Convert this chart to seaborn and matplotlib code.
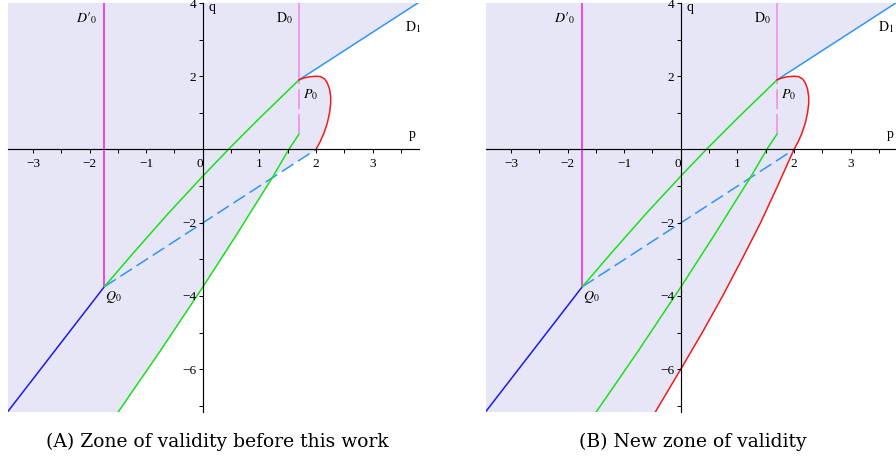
import matplotlib
matplotlib.use('Agg')
import matplotlib.pyplot as plt
import matplotlib.transforms as mtransforms
import seaborn as sns

sns.set_style('white')
plt.rcParams['font.family'] = ['Liberation Serif', 'DejaVu Serif']
plt.rcParams['mathtext.fontset'] = 'stix'
plt.rcParams['text.color'] = 'black'
plt.rcParams['xtick.color'] = 'black'
plt.rcParams['ytick.color'] = 'black'

# axis ranges
p_lim = (-3.44, 3.82)
q_lim = (-7.16, 4.0)
p_ticks = [-3, -2, -1, 0, 1, 2, 3]
p_minor = [-2.5, -1.5, -0.5, 0.5, 1.5, 2.5, 3.5]
q_ticks = [-6, -4, -2, 2, 4]
q_minor = [-7, -5, -3, -1, 1, 3]

# special points
p0_pt = (1.70, 1.90)
q0_pt = (-1.74, -3.75)

# D1 (light blue)
d1_p = [1.70, 4.30]
d1_q = [1.90, 4.50]

# dashed blue segment Q0 -> (2, 0)
dash_p = [-1.74, 2.00]
dash_q = [-3.75, 0.00]

# dark blue below Q0
blue_p = [-1.74, -3.50]
blue_q = [-3.75, -7.27]

# upper green Q0 -> P0
green1_p = [-1.74, -1.20, -0.60, 0.00, 0.47, 1.00, 1.70]
green1_q = [-3.75, -2.78, -1.73, -0.73, 0.03, 0.85, 1.90]

# lower green
green2_p = [-1.53, -0.75, 0.00, 0.60, 1.00, 1.24, 1.52, 1.70]
green2_q = [-7.25, -5.50, -3.76, -2.32, -1.33, -0.74, 0.00, 0.42]
cross_idx = 5  # lower green meets dashed line here

# red curve, upper loop P0 -> (2, 0)
red_top_p = [1.70, 1.78, 1.88, 2.00, 2.08, 2.15, 2.20, 2.24, 2.26, 2.26, 2.24, 2.20, 2.14, 2.07, 2.00]
red_top_q = [1.90, 1.95, 1.985, 2.00, 1.99, 1.93, 1.82, 1.65, 1.45, 1.25, 1.00, 0.72, 0.44, 0.20, 0.00]

# red curve, lower branch (new zone only)
red_low_p = [2.00, 1.71, 1.41, 1.08, 0.74, 0.38, 0.00, -0.48]
red_low_q = [0.00, -1.00, -2.00, -3.00, -4.00, -5.00, -6.00, -7.25]

# vertical lines
d0p_p = -1.74
d0_p = 1.70
d0_dash_bottom = 0.42

captions = ['(A) Zone of validity before this work', '(B) New zone of validity']

fill_col = '#E6E6F7'
c_green = '#19E019'
c_red = '#F21A1A'
c_lblue = '#2E95F5'
c_blue = '#1A1AF0'
c_mag = '#F01AF0'
c_viol = '#EE88EE'

fig = plt.figure(figsize=(8.96, 4.70), dpi=100)
ax_a = fig.add_axes([8 / 896, 1 - 411.7 / 470, 411 / 896, 408.7 / 470])
ax_b = fig.add_axes([486 / 896, 1 - 411.7 / 470, 411 / 896, 408.7 / 470])


def line(ax, x, y, color, ls='-'):
    sns.lineplot(x=x, y=y, sort=False, estimator=None, color=color,
                 lw=1.1, linestyle=ls, ax=ax, zorder=2)


def fmt(v):
    return str(v).replace('-', '\u2212')


def draw_panel(ax, new_zone):
    # shaded zone
    if new_zone:
        zp = [-4.0] + d1_p[::-1] + red_top_p[1:] + red_low_p[1:] + [-4.0]
        zq = [4.5] + d1_q[::-1] + red_top_q[1:] + red_low_q[1:] + [-7.25]
    else:
        zp = [-4.0] + d1_p[::-1] + red_top_p[1:] + green2_p[cross_idx::-1] + [-4.0]
        zq = [4.5] + d1_q[::-1] + red_top_q[1:] + green2_q[cross_idx::-1] + [-7.25]
    ax.fill(zp, zq, color=fill_col, lw=0, zorder=1)

    line(ax, [d0p_p, d0p_p], [4.5, q0_pt[1]], c_mag)
    line(ax, [d0_p, d0_p], [4.5, p0_pt[1]], c_viol)
    line(ax, [d0_p, d0_p], [d0_dash_bottom, p0_pt[1]], c_viol, ls=(0, (13, 3.3)))
    line(ax, d1_p, d1_q, c_lblue)
    line(ax, dash_p, dash_q, c_lblue, ls=(0, (9, 3.6)))
    line(ax, blue_p, blue_q, c_blue)
    line(ax, green1_p, green1_q, c_green)
    line(ax, green2_p, green2_q, c_green)
    line(ax, red_top_p, red_top_q, c_red)
    if new_zone:
        line(ax, red_low_p, red_low_q, c_red)

    ax.set_xlim(*p_lim)
    ax.set_ylim(*q_lim)
    ax.set_xlabel('')
    ax.set_ylabel('')
    ax.set_axisbelow(False)

    for s in ['top', 'right']:
        ax.spines[s].set_visible(False)
    ax.spines['left'].set_position(('data', 0))
    ax.spines['bottom'].set_position(('data', 0))
    for s in ['left', 'bottom']:
        ax.spines[s].set_color('black')
        ax.spines[s].set_linewidth(0.85)
        ax.spines[s].set_zorder(3)

    ax.set_xticks(p_ticks, [fmt(v) for v in p_ticks])
    ax.set_xticks(p_minor, minor=True)
    ax.set_yticks(q_ticks, [fmt(v) for v in q_ticks])
    ax.set_yticks(q_minor, minor=True)
    ax.tick_params(axis='x', which='both', bottom=True, direction='out',
                   length=3, width=0.7, pad=3.0, labelsize=9.5)
    ax.tick_params(axis='y', which='both', left=True, direction='out',
                   length=3, width=0.7, pad=1.5, labelsize=9.5)
    ax.get_xticklabels()[3].set_ha('right')
    top_lab = ax.get_yticklabels()[-1]
    top_lab.set_va('top')
    top_lab.set_transform(top_lab.get_transform() +
                          mtransforms.ScaledTranslation(0, 3 / 72, fig.dpi_scale_trans))

    # D1 label sits at the right edge; nudge it in a bit on the right panel
    d1_x = 3.48 if new_zone else 3.57
    ax.text(-1.86, 3.6, r"$D\prime_0$", fontsize=10, ha='right', va='center')
    ax.text(1.60, 3.6, r"$\mathrm{D}_0$", fontsize=10, ha='right', va='center')
    ax.text(d1_x, 3.35, r"$\mathrm{D}_1$", fontsize=10, ha='left', va='center')
    ax.text(1.77, 1.49, r"$P_0$", fontsize=10, ha='left', va='center')
    ax.text(-1.72, -4.03, r"$Q_0$", fontsize=10, ha='left', va='center')
    ax.text(0.10, 3.88, 'q', fontsize=10, ha='left', va='center')
    ax.text(3.64, 0.40, 'p', fontsize=10, ha='left', va='center')


draw_panel(ax_a, False)
draw_panel(ax_b, True)

fig.text(217 / 896, 1 - 446.7 / 470, captions[0], fontsize=13.5,
         family='DejaVu Serif', ha='center', va='baseline')
fig.text(693 / 896, 1 - 446.7 / 470, captions[1], fontsize=13.5,
         family='DejaVu Serif', ha='center', va='baseline')

fig.savefig('out.png', dpi=100)
